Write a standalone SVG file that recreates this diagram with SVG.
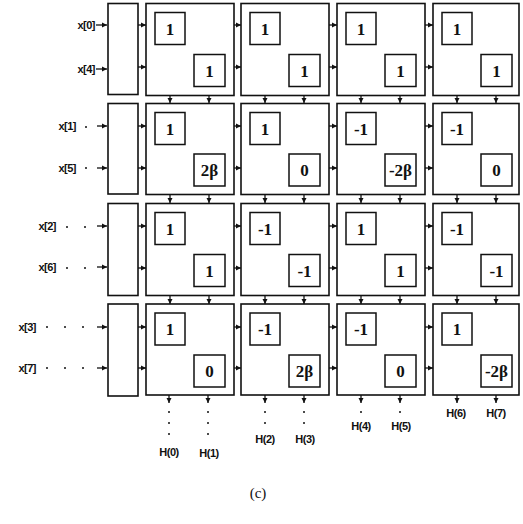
<svg xmlns="http://www.w3.org/2000/svg" width="523" height="524" viewBox="0 0 523 524">
<defs>
<marker id="ah" markerWidth="6" markerHeight="6" refX="5" refY="3" orient="auto" markerUnits="userSpaceOnUse">
<path d="M0,0.5 L5,3 L0,5.5 z" fill="#111"/>
</marker>
<style>
.b{fill:#fff;stroke:#111;stroke-width:1.6}
.i{fill:#fff;stroke:#111;stroke-width:1.5}
.v{font-family:"Liberation Serif",serif;font-weight:bold;font-size:17px;text-anchor:middle;fill:#111}
.l{font-family:"Liberation Sans",Arial,sans-serif;font-weight:bold;font-size:11px;fill:#111;letter-spacing:-0.5px}
.a{stroke:#111;stroke-width:1.3;fill:none;marker-end:url(#ah)}
.d{fill:#111}
</style>
</defs>
<rect width="523" height="524" fill="#fff"/>

<g id="connectors">
<path class="a" d="M96,25 H107"/><path class="a" d="M96,69 H107"/>
<path class="a" d="M97,126 H107"/><path class="a" d="M97,168 H107"/>
<path class="a" d="M97,226 H107"/><path class="a" d="M97,267 H107"/>
<path class="a" d="M97,327 H107"/><path class="a" d="M97,368 H107"/>
<circle class="d" cx="86" cy="127" r="1"/><circle class="d" cx="86" cy="168" r="1"/>
<circle class="d" cx="67" cy="227" r="1"/><circle class="d" cx="85" cy="227" r="1"/>
<circle class="d" cx="67" cy="268" r="1"/><circle class="d" cx="85" cy="268" r="1"/>
<circle class="d" cx="47" cy="327" r="1"/><circle class="d" cx="65" cy="327" r="1"/><circle class="d" cx="83" cy="327" r="1"/>
<circle class="d" cx="47" cy="368" r="1"/><circle class="d" cx="65" cy="368" r="1"/><circle class="d" cx="83" cy="368" r="1"/>
<g id="harrows">
<path class="a" d="M138,25 H146"/><path class="a" d="M138,67 H146"/>
<path class="a" d="M234,25 H241"/><path class="a" d="M234,67 H241"/>
<path class="a" d="M329,25 H337"/><path class="a" d="M329,67 H337"/>
<path class="a" d="M425,25 H433"/><path class="a" d="M425,67 H433"/>

<path class="a" d="M138,126 H146"/><path class="a" d="M138,168 H146"/>
<path class="a" d="M234,126 H241"/><path class="a" d="M234,168 H241"/>
<path class="a" d="M329,126 H337"/><path class="a" d="M329,168 H337"/>
<path class="a" d="M425,126 H433"/><path class="a" d="M425,168 H433"/>

<path class="a" d="M138,226 H146"/><path class="a" d="M138,268 H146"/>
<path class="a" d="M234,226 H241"/><path class="a" d="M234,268 H241"/>
<path class="a" d="M329,226 H337"/><path class="a" d="M329,268 H337"/>
<path class="a" d="M425,226 H433"/><path class="a" d="M425,268 H433"/>

<path class="a" d="M138,327 H146"/><path class="a" d="M138,368 H146"/>
<path class="a" d="M234,327 H241"/><path class="a" d="M234,368 H241"/>
<path class="a" d="M329,327 H337"/><path class="a" d="M329,368 H337"/>
<path class="a" d="M425,327 H433"/><path class="a" d="M425,368 H433"/>
</g>
<g id="varrows">
<path class="a" d="M170,96 V103"/><path class="a" d="M209,96 V103"/>
<path class="a" d="M265,96 V103"/><path class="a" d="M304,96 V103"/>
<path class="a" d="M361,96 V103"/><path class="a" d="M400,96 V103"/>
<path class="a" d="M457,96 V103"/><path class="a" d="M496,96 V103"/>

<path class="a" d="M170,195 V203"/><path class="a" d="M209,195 V203"/>
<path class="a" d="M265,195 V203"/><path class="a" d="M304,195 V203"/>
<path class="a" d="M361,195 V203"/><path class="a" d="M400,195 V203"/>
<path class="a" d="M457,195 V203"/><path class="a" d="M496,195 V203"/>

<path class="a" d="M170,296 V304"/><path class="a" d="M209,296 V304"/>
<path class="a" d="M265,296 V304"/><path class="a" d="M304,296 V304"/>
<path class="a" d="M361,296 V304"/><path class="a" d="M400,296 V304"/>
<path class="a" d="M457,296 V304"/><path class="a" d="M496,296 V304"/>
</g>
<g id="outarrows">
<path class="a" d="M169,395 V403"/><path class="a" d="M208,395 V403"/>
<path class="a" d="M265,395 V403"/><path class="a" d="M304,395 V403"/>
<path class="a" d="M361,395 V403"/><path class="a" d="M400,395 V403"/>
<path class="a" d="M457,395 V403"/><path class="a" d="M496,395 V403"/>
<circle class="d" cx="169" cy="412" r="1"/><circle class="d" cx="169" cy="423" r="1"/><circle class="d" cx="169" cy="434" r="1"/>
<circle class="d" cx="208" cy="412" r="1"/><circle class="d" cx="208" cy="423" r="1"/><circle class="d" cx="208" cy="434" r="1"/>
<circle class="d" cx="265" cy="412" r="1"/><circle class="d" cx="265" cy="423" r="1"/>
<circle class="d" cx="304" cy="412" r="1"/><circle class="d" cx="304" cy="423" r="1"/>
<circle class="d" cx="361" cy="412" r="1"/>
<circle class="d" cx="400" cy="412" r="1"/>
</g>
</g>

<g id="inputs">
<text class="l" x="95" y="29" text-anchor="end">x[0]</text>
<text class="l" x="95" y="73" text-anchor="end">x[4]</text>
<text class="l" x="76" y="130" text-anchor="end">x[1]</text>
<text class="l" x="76" y="172" text-anchor="end">x[5]</text>
<text class="l" x="56" y="230" text-anchor="end">x[2]</text>
<text class="l" x="56" y="271" text-anchor="end">x[6]</text>
<text class="l" x="36" y="331" text-anchor="end">x[3]</text>
<text class="l" x="36" y="372" text-anchor="end">x[7]</text>
</g>

<g id="pre">
<rect class="b" x="108" y="3.5" width="30" height="91"/>
<rect class="b" x="108" y="103.5" width="30" height="90.5"/>
<rect class="b" x="108" y="203.5" width="30" height="92"/>
<rect class="b" x="108" y="304" width="30" height="92"/>
</g>

<g id="n00"><rect class="b" x="146" y="3.5" width="88" height="92"/><rect class="i" x="155" y="12.5" width="30" height="32"/><text class="v" x="170" y="34.5">1</text><rect class="i" x="194" y="54.5" width="31" height="32"/><text class="v" x="209.5" y="76.5">1</text></g>
<g id="n01"><rect class="b" x="241" y="3.5" width="88" height="92"/><rect class="i" x="250" y="12.5" width="30" height="32"/><text class="v" x="265" y="34.5">1</text><rect class="i" x="289" y="54.5" width="31" height="32"/><text class="v" x="304.5" y="76.5">1</text></g>
<g id="n02"><rect class="b" x="337" y="3.5" width="88" height="92"/><rect class="i" x="346" y="12.5" width="30" height="32"/><text class="v" x="361" y="34.5">1</text><rect class="i" x="385" y="54.5" width="31" height="32"/><text class="v" x="400.5" y="76.5">1</text></g>
<g id="n03"><rect class="b" x="433" y="3.5" width="86" height="92"/><rect class="i" x="442" y="12.5" width="30" height="32"/><text class="v" x="457" y="34.5">1</text><rect class="i" x="481" y="54.5" width="31" height="32"/><text class="v" x="496.5" y="76.5">1</text></g>

<g id="n10"><rect class="b" x="146" y="103.5" width="88" height="91"/><rect class="i" x="155" y="112.5" width="30" height="32"/><text class="v" x="170" y="134.5">1</text><rect class="i" x="194" y="154" width="31" height="32"/><text class="v" x="209.5" y="176">2β</text></g>
<g id="n11"><rect class="b" x="241" y="103.5" width="88" height="91"/><rect class="i" x="250" y="112.5" width="30" height="32"/><text class="v" x="265" y="134.5">1</text><rect class="i" x="289" y="154" width="31" height="32"/><text class="v" x="304.5" y="176">0</text></g>
<g id="n12"><rect class="b" x="337" y="103.5" width="88" height="91"/><rect class="i" x="346" y="112.5" width="30" height="32"/><text class="v" x="361" y="134.5">-1</text><rect class="i" x="385" y="154" width="31" height="32"/><text class="v" x="400.5" y="176">-2β</text></g>
<g id="n13"><rect class="b" x="433" y="103.5" width="86" height="91"/><rect class="i" x="442" y="112.5" width="30" height="32"/><text class="v" x="457" y="134.5">-1</text><rect class="i" x="481" y="154" width="31" height="32"/><text class="v" x="496.5" y="176">0</text></g>

<g id="n20"><rect class="b" x="146" y="203.5" width="88" height="92"/><rect class="i" x="155" y="212.5" width="30" height="32"/><text class="v" x="170" y="234.5">1</text><rect class="i" x="194" y="254.5" width="31" height="32"/><text class="v" x="209.5" y="276.5">1</text></g>
<g id="n21"><rect class="b" x="241" y="203.5" width="88" height="92"/><rect class="i" x="250" y="212.5" width="30" height="32"/><text class="v" x="265" y="234.5">-1</text><rect class="i" x="289" y="254.5" width="31" height="32"/><text class="v" x="304.5" y="276.5">-1</text></g>
<g id="n22"><rect class="b" x="337" y="203.5" width="88" height="92"/><rect class="i" x="346" y="212.5" width="30" height="32"/><text class="v" x="361" y="234.5">1</text><rect class="i" x="385" y="254.5" width="31" height="32"/><text class="v" x="400.5" y="276.5">1</text></g>
<g id="n23"><rect class="b" x="433" y="203.5" width="86" height="92"/><rect class="i" x="442" y="212.5" width="30" height="32"/><text class="v" x="457" y="234.5">-1</text><rect class="i" x="481" y="254.5" width="31" height="32"/><text class="v" x="496.5" y="276.5">-1</text></g>

<g id="n30"><rect class="b" x="146" y="304" width="88" height="91"/><rect class="i" x="155" y="313" width="30" height="32"/><text class="v" x="170" y="335">1</text><rect class="i" x="194" y="355" width="31" height="32"/><text class="v" x="209.5" y="377">0</text></g>
<g id="n31"><rect class="b" x="241" y="304" width="88" height="91"/><rect class="i" x="250" y="313" width="30" height="32"/><text class="v" x="265" y="335">-1</text><rect class="i" x="289" y="355" width="31" height="32"/><text class="v" x="304.5" y="377">2β</text></g>
<g id="n32"><rect class="b" x="337" y="304" width="88" height="91"/><rect class="i" x="346" y="313" width="30" height="32"/><text class="v" x="361" y="335">-1</text><rect class="i" x="385" y="355" width="31" height="32"/><text class="v" x="400.5" y="377">0</text></g>
<g id="n33"><rect class="b" x="433" y="304" width="86" height="91"/><rect class="i" x="442" y="313" width="30" height="32"/><text class="v" x="457" y="335">1</text><rect class="i" x="481" y="355" width="31" height="32"/><text class="v" x="496.5" y="377">-2β</text></g>

<g id="outputs">
<text class="l" x="169" y="456" text-anchor="middle">H(0)</text>
<text class="l" x="209" y="457" text-anchor="middle">H(1)</text>
<text class="l" x="265" y="443" text-anchor="middle">H(2)</text>
<text class="l" x="305" y="443" text-anchor="middle">H(3)</text>
<text class="l" x="361" y="430" text-anchor="middle">H(4)</text>
<text class="l" x="401" y="430" text-anchor="middle">H(5)</text>
<text class="l" x="456" y="417" text-anchor="middle">H(6)</text>
<text class="l" x="496" y="417" text-anchor="middle">H(7)</text>
</g>

<text x="258" y="498" font-family="Liberation Serif,serif" font-size="15" text-anchor="middle" fill="#111">(c)</text>
</svg>
